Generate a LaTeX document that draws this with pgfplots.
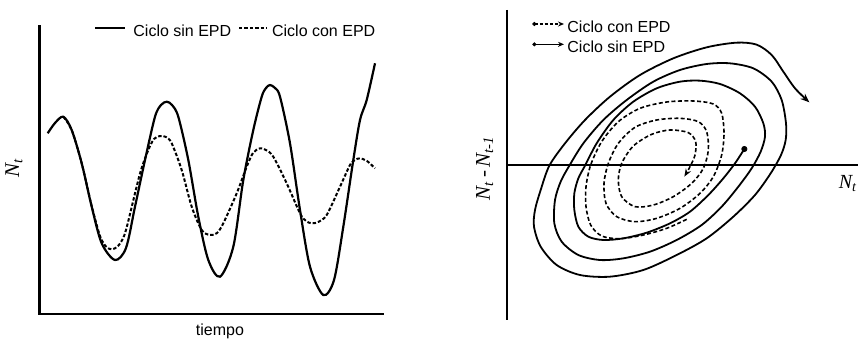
\documentclass[border=0pt]{standalone}
\usepackage{fontspec}
\setmainfont{Liberation Sans}
\newfontfamily\tnr{Liberation Serif}
\usepackage{pgfplots}
\pgfplotsset{compat=1.18}
\usetikzlibrary{arrows.meta}

\begin{document}
\begin{tikzpicture}[font=\fontsize{8}{9.6}\selectfont]
\useasboundingbox (0,0) rectangle (433pt,169pt);
% left panel, pixel units
\begin{axis}[at={(0,0)}, anchor=south west, width=216.5pt, height=169pt,
  scale only axis, xmin=0, xmax=433, ymin=0, ymax=338, y dir=reverse,
  axis lines=none, clip=false]
\addplot[line width=1.1pt] coordinates {(39.5,25) (39.5,314) (384,314)};
\addplot[line width=1.1pt, smooth] coordinates {
(47.7,133.3) (55,123) (63.3,116.7) (71.7,130) (81.7,163.3) (91.7,206.7)
(101.7,243.3) (115,260) (126,248) (135,206.7) (145,160)
(155,116.7) (161,105) (166.7,101.7) (172,105) (178.3,116.7) (188.3,160)
(198.3,216.7) (208.3,260) (220,276.7) (233.3,246.7)
(243.3,180) (253.3,130) (261.7,96.7) (266,88) (270,85) (275,88) (280,96.7)
(290,143.3) (300,210) (310,266.7) (323.3,295) (334,280)
(343.3,226.7) (353.3,160) (360,120) (366.7,100) (375,63.3)};
\addplot[line width=1pt, smooth, dash pattern=on 1.7pt off 1pt] coordinates {
(63.3,116.7) (71.7,130) (81.7,163.3) (91.7,206) (100,236) (106,246.5)
(111.7,249.3) (118,246) (125,233.3) (135,193.3) (141,170) (148.3,150)
(154,139) (160,136) (166,137) (171.7,143.3) (181.7,170) (191.7,206.7)
(201.7,230) (210,235) (217,233) (223.3,223.3) (236.7,193.3) (246.7,166.7)
(253,153) (260,148.3) (266,150) (273.3,156.7) (286.7,183.3) (300,213.3)
(306,221) (311.7,223.3) (318,222) (326.7,215) (340,186.7) (350,165)
(355,160) (360,158.3) (367,161) (375,168.3)};
% legend
\addplot[line width=1.1pt] coordinates {(95,28) (125,28)};
\addplot[line width=1pt, dash pattern=on 1.7pt off 1pt] coordinates {(239,28) (267,28)};
\node[anchor=west, inner sep=0pt] at (axis cs:133,31) {Ciclo sin EPD};
\node[anchor=west, inner sep=0pt] at (axis cs:271.7,31) {Ciclo con EPD};
\node[rotate=90, font=\fontsize{10.5}{12}\selectfont] at (axis cs:14,168) {\tnr\itshape N\textsubscript{t}};
\node at (axis cs:220,331) {tiempo};
\end{axis}
% right panel
\begin{axis}[at={(216.5pt,0)}, anchor=south west, width=216.5pt, height=169pt,
  scale only axis, xmin=-261, xmax=1038, ymin=-120, ymax=894, y dir=reverse,
  axis lines=none, clip=false]
\addplot[line width=1pt] coordinates {(-39,-90) (-39,840)};
\addplot[line width=1pt] coordinates {(-39,375) (1014,375)};
\addplot[line width=0.9pt, smooth, -{Stealth[length=4.5pt,width=3.5pt]}] coordinates {
(673,327) (645,370) (610,415) (565,465) (510,515) (450,550) (380,578) (310,595)
(250,600) (205,590) (175,560)
(163,510) (163,460) (175,415) (195,377) (230,310) (280,240) (340,185) (410,145)
(480,125) (540,122) (600,132) (660,160) (705,200) (730,250)
(735,290) (722,335) (695,385) (655,440) (605,500) (545,555) (470,600) (390,635)
(310,655) (240,660) (175,645) (125,605)
(103,550) (105,480) (122,425) (148,377) (190,310) (250,240) (320,180) (400,125)
(480,90) (560,72) (630,70) (700,85) (755,125) (785,180) (798,250)
(797,300) (783,345) (752,400) (705,465) (640,530) (560,595) (470,645) (370,690)
(270,710) (180,705) (110,675) (62,620)
(42,560) (45,510) (62,450) (88,377) (135,310) (195,240) (270,170) (360,105)
(460,55) (560,22) (650,8) (710,14) (755,45) (790,95) (825,145) (868,187)};
\addplot[only marks, mark=*, mark size=1.3pt] coordinates {(673,327)};
\addplot[line width=0.8pt, smooth, dash pattern=on 2pt off 1.2pt, -{Stealth[length=4pt,width=3pt]}] coordinates {
(500,538) (440,565) (370,585) (300,596) (245,588) (212,555) (198,500) (198,440)
(212,375) (245,305) (295,245) (360,205) (440,186) (520,183) (580,192) (605,220)
(612,280) (605,345) (580,410) (540,460) (480,505) (410,535) (345,545) (290,530)
(258,490) (252,430) (265,370) (295,310) (345,262) (410,240) (480,235) (535,245)
(560,275) (565,330) (550,385) (515,430) (460,470) (400,495) (345,500) (305,470)
(295,420) (305,370) (340,318) (395,283) (450,270) (505,278) (527,305) (525,345)
(510,380) (493,410)};
% legend
\addplot[line width=0.8pt, dash pattern=on 1.6pt off 1pt, -{Stealth[length=3pt,width=2.5pt]}] coordinates {(43,-48) (132,-48)};
\addplot[only marks, mark=*, mark size=0.8pt] coordinates {(43,-48)};
\addplot[line width=0.8pt, -{Stealth[length=3pt,width=2.5pt]}] coordinates {(43,13) (132,13)};
\addplot[only marks, mark=*, mark size=0.8pt] coordinates {(43,13)};
\node[anchor=west, inner sep=0pt] at (axis cs:141,-41) {Ciclo con EPD};
\node[anchor=west, inner sep=0pt] at (axis cs:141,19) {Ciclo sin EPD};
\node[font=\fontsize{10}{12}\selectfont] at (axis cs:984,430) {\tnr\itshape N\textsubscript{t}};
\node[rotate=90, font=\fontsize{10.5}{12}\selectfont] at (axis cs:-106,385)
  {\tnr\itshape N\textsubscript{t}\upshape\,-\,\itshape N\textsubscript{t-1}};
\end{axis}
\end{tikzpicture}
\end{document}
